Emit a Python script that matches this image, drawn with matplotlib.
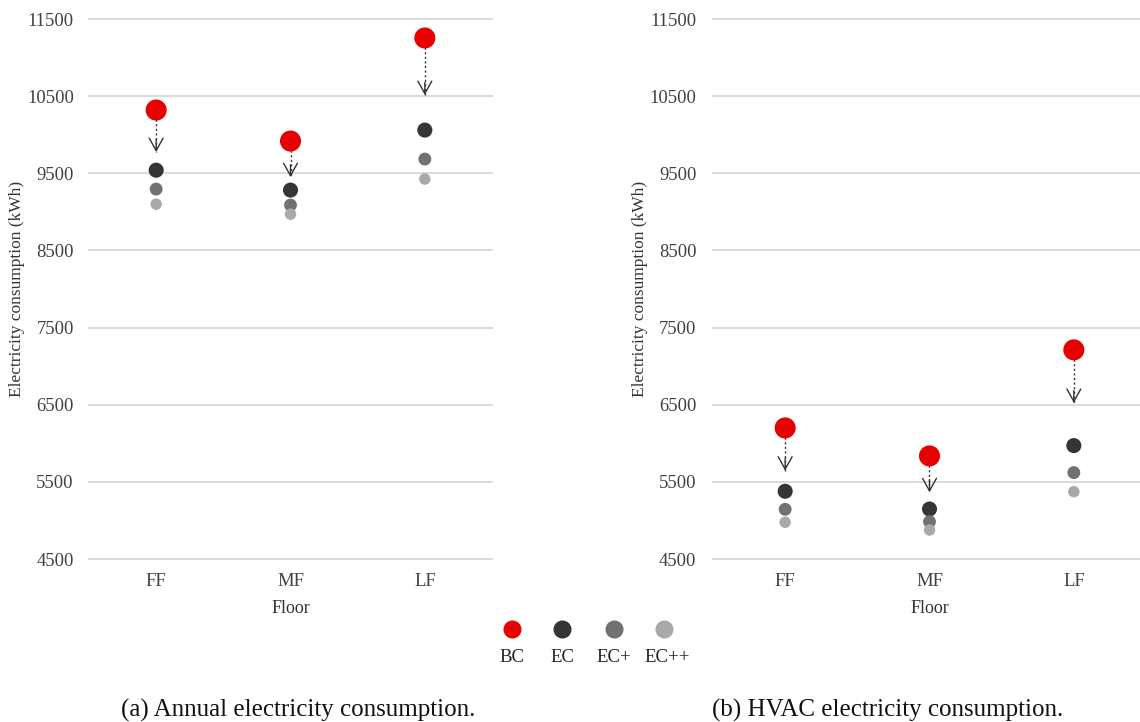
import numpy as np
import matplotlib.pyplot as plt
from matplotlib.lines import Line2D

plt.rcParams['font.family'] = ['Liberation Serif', 'DejaVu Serif']

floors = ["FF", "MF", "LF"]
cases = ["BC", "EC", "EC+", "EC++"]

# (a) annual electricity consumption (kWh)
annual = {
    "BC":   [10320, 9918, 11254],
    "EC":   [9540, 9282, 10060],
    "EC+":  [9295, 9088, 9684],
    "EC++": [9100, 8970, 9425],
}
annual_arrow_tip = [9775, 9450, 10514]

# (b) HVAC electricity consumption (kWh)
hvac = {
    "BC":   [6199, 5836, 7211],
    "EC":   [5378, 5148, 5970],
    "EC+":  [5144, 4984, 5620],
    "EC++": [4976, 4876, 5373],
}
hvac_arrow_tip = [5645, 5365, 6523]

yticks = [4500, 5500, 6500, 7500, 8500, 9500, 10500, 11500]

colors = {"BC": "#e60000", "EC": "#353535", "EC+": "#717171", "EC++": "#a9a9a9"}
sizes = {"BC": 230, "EC": 118, "EC+": 86, "EC++": 68}


def draw_panel(ax, data, tips, tickpad):
    x = np.arange(len(floors))
    for y in yticks:
        ax.axhline(y, color="#d9d9d9", lw=1.4, zorder=0, clip_on=False)
    # dotted arrows from BC down
    for xi, y0, y1 in zip(x, data["BC"], tips):
        ax.plot([xi, xi], [y0, y1], color="#333333", lw=1.0,
                linestyle=(0, (1.5, 1.8)), zorder=1)
        ax.annotate("", xy=(xi, y1), xytext=(0, 9), textcoords="offset points",
                    arrowprops=dict(arrowstyle="->,head_length=0.9,head_width=0.5",
                                    color="#333333", lw=1.0, mutation_scale=10,
                                    shrinkA=0, shrinkB=0),
                    zorder=1)
    for c in cases:
        ax.scatter(x, data[c], s=sizes[c], color=colors[c], edgecolors="none", zorder=3)
    ax.set_xlim(-0.5, 2.5)
    ax.set_ylim(4500, 11500)
    ax.set_xticks(x)
    ax.set_xticklabels(floors)
    ax.set_yticks(yticks)
    ax.tick_params(length=0, labelsize=13.4, labelcolor="#404040")
    ax.tick_params(axis="y", pad=tickpad)
    ax.tick_params(axis="x", pad=10)
    for s in ax.spines.values():
        s.set_visible(False)
    ax.set_xlabel("Floor", fontsize=13, color="#333333", labelpad=7)
    ax.set_ylabel("Electricity consumption (kWh)", fontsize=12.5, color="#333333", labelpad=1)


fig = plt.figure(figsize=(11.4, 7.22), dpi=100)
ax1 = fig.add_axes([89 / 1140, 1 - 559 / 722, 403 / 1140, 540 / 722])
ax2 = fig.add_axes([713 / 1140, 1 - 559 / 722, 433 / 1140, 540 / 722])
draw_panel(ax1, annual, annual_arrow_tip, 11)
draw_panel(ax2, hvac, hvac_arrow_tip, 12)

# legend below, centred between the panels
leg_x = [512, 562, 614, 664]
for lx, c in zip(leg_x, cases):
    fig.add_artist(Line2D([lx / 1140], [1 - 629 / 722], marker="o", markersize=13,
                          color=colors[c], markeredgewidth=0, linestyle="none"))
    fig.text(lx / 1140 + (0.003 if c == "EC++" else 0), 1 - 658 / 722, c,
             fontsize=13.5, color="#222222", ha="center", va="center")

fig.text(298 / 1140, 1 - 717 / 722, "(a) Annual electricity consumption.",
         fontsize=18, ha="center", va="baseline", color="#111111")
fig.text(888 / 1140, 1 - 717 / 722, "(b) HVAC electricity consumption.",
         fontsize=18, ha="center", va="baseline", color="#111111")

fig.savefig("out.png", dpi=100)
